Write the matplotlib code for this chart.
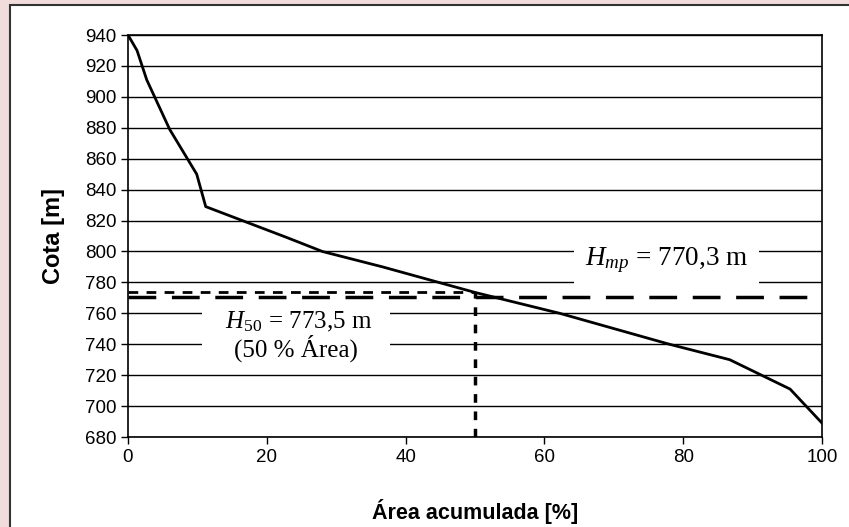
import matplotlib
matplotlib.use("Agg")
from matplotlib import pyplot as plt
from matplotlib.patches import Rectangle

# hypsometric curve
area = [0, 1.3, 2.7, 6.0, 9.9, 11.2, 22.9, 28.0, 36.7, 50.0, 62.2, 78.0, 86.7, 95.4, 100]
cota = [940, 930, 911, 879, 850, 829, 809, 800, 790, 773.5, 760, 740, 730, 711, 689]

h_mp = 770.3
h_50 = 773.5
area_50 = 50

plt.rcParams['font.family'] = ['Liberation Sans', 'DejaVu Sans']
plt.rcParams['mathtext.fontset'] = 'custom'
plt.rcParams['mathtext.rm'] = 'Liberation Serif'
plt.rcParams['mathtext.it'] = 'Liberation Serif:italic'

fig = plt.figure(figsize=(8.49, 5.27), dpi=100)
fig.patch.set_facecolor('#f2dcdb')
fig.patches.append(Rectangle((10 / 849, -0.1), 1.2, 1 - 5 / 527 + 0.1, transform=fig.transFigure,
                             facecolor='white', edgecolor='#333333', lw=1.5, zorder=-10))

ax = fig.add_axes([128 / 849, 1 - 437 / 527, 694 / 849, 402 / 527])
ax.set_xlim(0, 100)
ax.set_ylim(680, 940)
ax.set_xticks(range(0, 101, 20))
ax.set_yticks(range(680, 941, 20))
ax.yaxis.grid(True, color='black', lw=1)
ax.set_axisbelow(True)
for s in ax.spines.values():
    s.set_color('black')
    s.set_linewidth(1.2)
ax.tick_params(direction='out', length=5, width=1, labelsize=13.5, colors='black')

ax.plot(area, cota, color='black', lw=2, zorder=3)

ax.plot([0, 100], [h_mp, h_mp], color='black', lw=2.5, dashes=(8, 4.5), zorder=3)
ax.plot([0, area_50], [h_50, h_50], color='black', lw=2, dashes=(3.5, 3), zorder=3)
ax.plot([area_50, area_50], [680, h_50], color='black', lw=2.5, dashes=(2.5, 2.5), zorder=3)

ax.text(77.6, 794.5, r'$H_{mp}$ = 770,3 m', family='Liberation Serif', fontsize=19.5,
        ha='center', va='center', zorder=4,
        bbox=dict(facecolor='white', edgecolor='none', boxstyle='square,pad=0.4'))
ax.text(24.2, 745.5, '   ' + r'$H_{\mathit{50}}$ = 773,5 m' + '   \n(50 % Área)', family='Liberation Serif',
        fontsize=18, ha='center', va='center', linespacing=1.05, zorder=4,
        bbox=dict(facecolor='white', edgecolor='none', boxstyle='square,pad=0.2'))

ax.set_xlabel('Área acumulada [%]', fontsize=15.5, fontweight='bold', labelpad=24)
ax.set_ylabel('Cota [m]', fontsize=17, fontweight='bold', labelpad=14)

fig.savefig('out.png', dpi=100, facecolor=fig.get_facecolor())
